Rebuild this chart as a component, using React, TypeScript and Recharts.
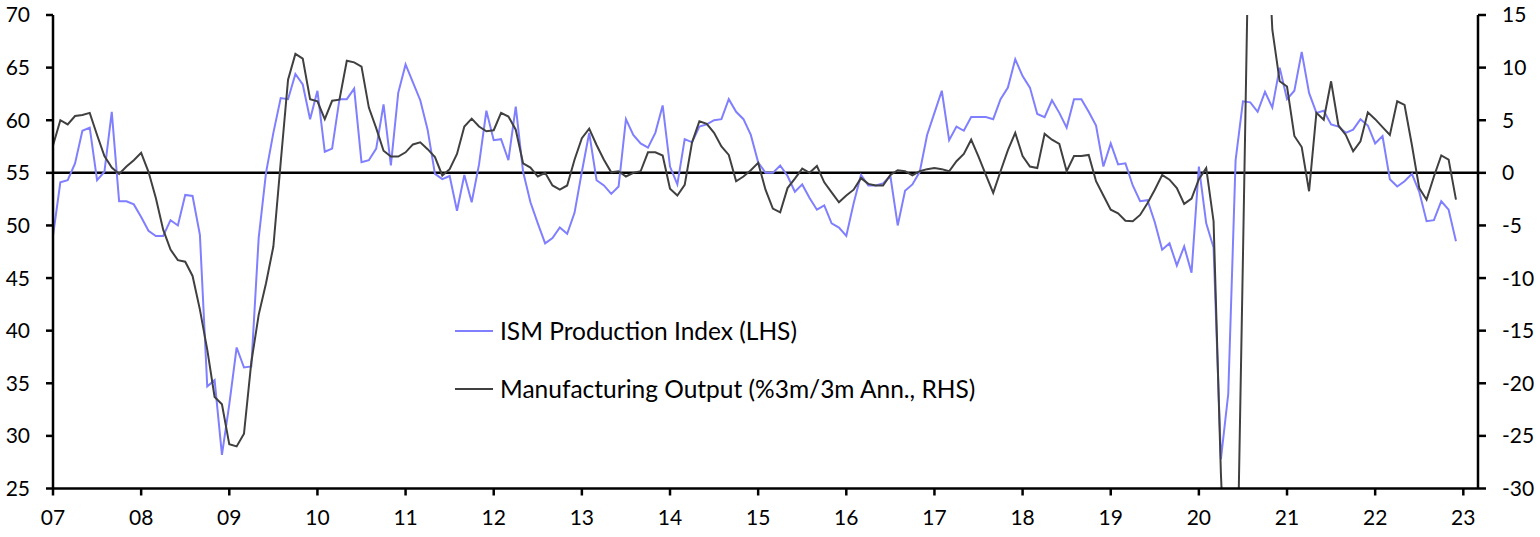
import React from 'react';
import { ComposedChart, Line, XAxis, YAxis, ReferenceLine, Legend } from 'recharts';

const FONT = '"Lato", "Open Sans", sans-serif';

const yearLabels = ['07', '08', '09', '10', '11', '12', '13', '14', '15', '16', '17', '18', '19', '20', '21', '22', '23'];
const leftTicks = [25, 30, 35, 40, 45, 50, 55, 60, 65, 70];
const rightTicks = [-30, -25, -20, -15, -10, -5, 0, 5, 10, 15];

// ISM Production Index (LHS), monthly Jan 2007 - Dec 2022
const ismProduction = [
  49.0, 54.1, 54.3, 55.9, 59.0, 59.3, 54.3, 55.1, 60.8, 52.3, 52.3, 52.0,
  50.8, 49.5, 49.0, 49.0, 50.5, 50.0, 52.9, 52.8, 49.1, 34.7, 35.3, 28.2,
  33.0, 38.4, 36.5, 36.6, 48.8, 55.0, 58.8, 62.1, 62.0, 64.4, 63.4, 60.1,
  62.8, 57.0, 57.3, 62.0, 62.0, 63.0, 56.0, 56.2, 57.3, 61.5, 55.7, 62.6,
  65.3, 63.6, 61.9, 59.1, 54.9, 54.4, 54.7, 51.4, 54.8, 52.2, 55.8, 60.9,
  58.1, 58.2, 56.2, 61.3, 55.1, 52.2, 50.2, 48.3, 48.8, 49.8, 49.2, 51.2,
  55.1, 58.8, 54.3, 53.8, 53.0, 53.7, 60.1, 58.6, 57.8, 57.4, 58.8, 61.4,
  55.6, 53.9, 58.2, 57.9, 59.4, 59.6, 60.0, 60.1, 62.0, 60.8, 60.1, 58.6,
  56.0, 55.0, 55.0, 55.7, 54.7, 53.2, 53.9, 52.6, 51.5, 51.9, 50.2, 49.8,
  49.0, 52.1, 54.8, 53.8, 53.8, 54.0, 54.7, 50.0, 53.3, 53.9, 55.1, 58.6,
  60.7, 62.8, 58.1, 59.4, 59.0, 60.3, 60.3, 60.3, 60.1, 62.0, 63.1, 65.8,
  64.2, 63.1, 60.6, 60.3, 61.9, 60.7, 59.3, 62.0, 62.0, 60.8, 59.5, 55.6,
  57.8, 55.8, 55.9, 53.8, 52.3, 52.4, 50.3, 47.7, 48.3, 46.2, 48.0, 45.5,
  55.6, 50.2, 47.9, 27.8, 34.0, 56.2, 61.8, 61.7, 60.8, 62.7, 61.2, 65.0,
  62.0, 62.8, 66.5, 62.6, 60.7, 60.9, 59.6, 59.4, 58.8, 59.1, 60.1, 59.5,
  57.8, 58.5, 54.4, 53.7, 54.2, 54.9, 53.2, 50.4, 50.5, 52.3, 51.5, 48.5,
];

// Manufacturing Output, %3m/3m annualised (RHS), monthly Jan 2007 - Dec 2022
const mfgOutput = [
  2.6, 5.0, 4.6, 5.4, 5.5, 5.7, 3.6, 1.6, 0.5, -0.1, 0.6, 1.2,
  1.9, 0.1, -2.4, -5.4, -7.3, -8.3, -8.45, -9.8, -13.0, -16.8, -21.3, -22.0,
  -25.8, -26.0, -24.8, -18.0, -13.5, -10.5, -7.0, 1.0, 8.85, 11.3, 10.85, 7.0,
  6.8, 5.1, 6.85, 6.95, 10.65, 10.5, 10.1, 6.2, 4.25, 2.1, 1.55, 1.55,
  1.95, 2.7, 2.9, 2.25, 1.5, -0.25, 0.35, 1.8, 4.4, 5.15, 4.4, 3.95,
  4.05, 5.7, 5.35, 4.1, 0.9, 0.5, -0.35, 0.0, -1.2, -1.6, -1.2, 1.25,
  3.3, 4.2, 2.65, 1.25, 0.05, 0.15, -0.35, 0.0, 0.15, 1.95, 1.95, 1.65,
  -1.5, -2.15, -1.15, 2.9, 4.9, 4.65, 3.8, 2.5, 1.7, -0.8, -0.35, 0.25,
  0.95, -1.6, -3.4, -3.75, -1.45, -0.55, 0.4, 0.0, 0.65, -0.9, -1.85, -2.8,
  -2.15, -1.6, -0.5, -1.05, -1.2, -1.2, -0.2, 0.25, 0.15, -0.25, 0.15, 0.35,
  0.45, 0.35, 0.15, 1.1, 1.8, 3.15, 1.55, -0.2, -1.9, 0.15, 2.15, 3.8,
  1.6, 0.6, 0.45, 3.7, 3.15, 2.75, 0.15, 1.6, 1.6, 1.7, -0.8, -2.15,
  -3.5, -3.85, -4.55, -4.6, -4.0, -2.9, -1.6, -0.2, -0.65, -1.45, -2.95, -2.45,
  -0.6, 0.45, -4.6, -28.6, -45.0, -47.0, -8.0, 32.0, 54.0, 28.0, 13.6, 8.7,
  8.2, 3.5, 2.45, -1.75, 5.7, 5.05, 8.7, 4.5, 3.6, 2.05, 3.0, 5.75,
  5.1, 4.35, 3.6, 6.8, 6.45, 2.65, -1.45, -2.55, -0.35, 1.65, 1.25, -2.55,
];

const months = ismProduction.map(
  (_, i) => `${2007 + Math.floor(i / 12)}-${String((i % 12) + 1).padStart(2, '0')}`
);

const data = months.map((m, i) => ({ i, month: m, ism: ismProduction[i], mfg: mfgOutput[i] }));
const xTicks = yearLabels.map((_, k) => k * 12);

const SERIES = [
  { key: 'ism', name: 'ISM Production Index (LHS)', color: '#7F7FFF', axis: 'left' },
  { key: 'mfg', name: 'Manufacturing Output (%3m/3m Ann., RHS)', color: '#404040', axis: 'right' },
];

const axisStroke = { stroke: '#000', strokeWidth: 2.5 };
const tickStyle = { fontSize: 21, fontFamily: FONT, fill: '#000' };

const renderLegend = (props: any) => {
  const items = props.payload || [];
  return (
    <div style={{ fontFamily: FONT }}>
      {items.map((e: any) => (
        <div key={e.value} style={{ display: 'flex', alignItems: 'center', height: 58 }}>
          <span style={{ display: 'inline-block', width: 38, borderTop: `2px solid ${e.color}`, marginRight: 7 }} />
          <span style={{ fontSize: 24.5, color: '#000', lineHeight: '58px', whiteSpace: 'nowrap' }}>{e.value}</span>
        </div>
      ))}
    </div>
  );
};

export default function App() {
  return (
    <div style={{ position: 'absolute', left: 0, top: 0, width: 1540, height: 537, background: '#fff' }}>
      <ComposedChart width={1540} height={537} data={data} margin={{ top: 15, right: 0, bottom: 0, left: 0 }}>
        <XAxis
          type="number"
          dataKey="i"
          domain={[0, 194]}
          ticks={xTicks}
          interval={0}
          allowDataOverflow
          tickFormatter={(v: number) => yearLabels[Math.round(v / 12)]}
          height={48.5}
          tickSize={7}
          tickMargin={15}
          axisLine={axisStroke}
          tickLine={axisStroke}
          tick={tickStyle}
        />
        <YAxis
          yAxisId="left"
          domain={[25, 70]}
          ticks={leftTicks}
          interval={0}
          allowDataOverflow
          width={53}
          tickSize={7}
          tickMargin={16}
          axisLine={axisStroke}
          tickLine={axisStroke}
          tick={tickStyle}
        />
        <YAxis
          yAxisId="right"
          orientation="right"
          domain={[-30, 15]}
          ticks={rightTicks}
          interval={0}
          allowDataOverflow
          width={62}
          tickSize={8}
          tickMargin={16}
          axisLine={axisStroke}
          tickLine={axisStroke}
          tick={tickStyle}
        />
        <ReferenceLine yAxisId="left" y={55} stroke="#000" strokeWidth={2.5} />
        {SERIES.map((s) => (
          <Line
            key={s.key}
            yAxisId={s.axis}
            type="linear"
            dataKey={s.key}
            name={s.name}
            stroke={s.color}
            strokeWidth={2}
            dot={false}
            activeDot={false}
            isAnimationActive={false}
          />
        ))}
        <Legend
          layout="vertical"
          align="center"
          verticalAlign="middle"
          wrapperStyle={{ left: 455, top: 302, width: 640 }}
          content={renderLegend}
        />
      </ComposedChart>
    </div>
  );
}
